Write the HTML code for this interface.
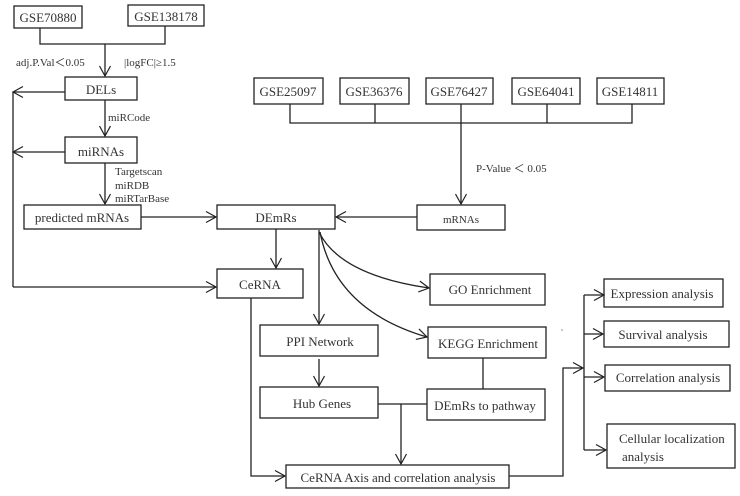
<!DOCTYPE html>
<html><head><meta charset="utf-8"><style>
html,body{margin:0;padding:0;background:#fff}
svg{display:block}
text{font-family:"Liberation Serif",serif;fill:#333}
</style></head><body>
<svg width="740" height="496" viewBox="0 0 740 496" xmlns="http://www.w3.org/2000/svg">
<defs>
<marker id="a" markerWidth="14" markerHeight="14" refX="11" refY="7" orient="auto" markerUnits="userSpaceOnUse">
<polyline points="1,1.5 11,7 1,12.5" fill="none" stroke="#222" stroke-width="1.2"/>
</marker>
</defs>
<g fill="none" stroke="#222" stroke-width="1.3">
<rect x="14" y="6" width="68" height="22"/>
<rect x="128" y="5" width="76" height="21"/>
<rect x="65" y="77" width="72" height="23"/>
<rect x="65" y="137" width="72" height="26"/>
<rect x="24" y="205" width="117" height="24"/>
<rect x="217" y="205" width="118" height="24"/>
<rect x="217" y="269" width="86" height="29"/>
<rect x="254" y="78" width="69" height="26"/>
<rect x="340" y="78" width="69" height="26"/>
<rect x="426" y="78" width="67" height="26"/>
<rect x="512" y="78" width="68" height="26"/>
<rect x="597" y="78" width="67" height="26"/>
<rect x="417" y="205" width="88" height="25"/>
<rect x="260" y="325" width="118" height="31"/>
<rect x="430" y="274" width="115" height="31"/>
<rect x="428" y="327" width="118" height="31"/>
<rect x="260" y="387" width="118" height="31"/>
<rect x="427" y="389" width="118" height="31"/>
<rect x="286" y="465" width="223" height="23"/>
<rect x="604" y="279" width="119" height="28"/>
<rect x="604" y="321" width="125" height="26"/>
<rect x="605" y="365" width="125" height="26"/>
<rect x="607" y="424" width="128" height="44"/>
<polyline points="40,28 40,44 165,44 165,26"/>
<line x1="105" y1="44" x2="105" y2="76" marker-end="url(#a)"/>
<line x1="65" y1="92" x2="13" y2="92" marker-end="url(#a)"/>
<line x1="13" y1="92" x2="13" y2="287"/>
<line x1="13" y1="287" x2="216" y2="287" marker-end="url(#a)"/>
<line x1="105" y1="100" x2="105" y2="136" marker-end="url(#a)"/>
<line x1="65" y1="152" x2="13" y2="152" marker-end="url(#a)"/>
<line x1="105" y1="163" x2="105" y2="204" marker-end="url(#a)"/>
<line x1="141" y1="217" x2="216" y2="217" marker-end="url(#a)"/>
<line x1="276" y1="229" x2="276" y2="268" marker-end="url(#a)"/>
<polyline points="290,104 290,123 632,123 632,104"/>
<line x1="375" y1="104" x2="375" y2="123"/>
<line x1="461" y1="104" x2="461" y2="204" marker-end="url(#a)"/>
<line x1="547" y1="104" x2="547" y2="123"/>
<line x1="417" y1="217" x2="336" y2="217" marker-end="url(#a)"/>
<line x1="319" y1="230" x2="319" y2="324" marker-end="url(#a)"/>
<path d="M319,232 Q340,275 429,288" marker-end="url(#a)"/>
<path d="M320,232 Q335,310 427,337" marker-end="url(#a)"/>
<line x1="319" y1="359" x2="319" y2="386" marker-end="url(#a)"/>
<line x1="483" y1="358" x2="483" y2="389"/>
<line x1="378" y1="404" x2="427" y2="404"/>
<line x1="401" y1="404" x2="401" y2="464" marker-end="url(#a)"/>
<polyline points="251,298 251,476 285,476" marker-end="url(#a)"/>
<polyline points="509,476 563,476 563,368 583,368" marker-end="url(#a)"/>
<line x1="584" y1="295" x2="584" y2="450"/>
<line x1="584" y1="295" x2="604" y2="295" marker-end="url(#a)"/>
<line x1="584" y1="334" x2="603" y2="334" marker-end="url(#a)"/>
<line x1="584" y1="377" x2="604" y2="377" marker-end="url(#a)"/>
<line x1="584" y1="450" x2="606" y2="450" marker-end="url(#a)"/>
</g>
<circle cx="562" cy="330" r="0.8" fill="#888"/>
<g font-size="13" text-anchor="middle">
<text x="48" y="22">GSE70880</text>
<text x="166" y="21">GSE138178</text>
<text x="101" y="94">DELs</text>
<text x="101" y="156">miRNAs</text>
<text x="82" y="222">predicted mRNAs</text>
<text x="276" y="222">DEmRs</text>
<text x="260" y="289">CeRNA</text>
<text x="288" y="96">GSE25097</text>
<text x="374" y="96">GSE36376</text>
<text x="459" y="96">GSE76427</text>
<text x="546" y="96">GSE64041</text>
<text x="630" y="96">GSE14811</text>
<text x="461" y="223" font-size="11">mRNAs</text>
<text x="320" y="346">PPI Network</text>
<text x="490" y="294">GO Enrichment</text>
<text x="488" y="348">KEGG Enrichment</text>
<text x="322" y="408">Hub Genes</text>
<text x="485" y="410">DEmRs to pathway</text>
<text x="398" y="482">CeRNA Axis and correlation analysis</text>
<text x="662" y="298">Expression analysis</text>
<text x="663" y="339">Survival analysis</text>
<text x="668" y="382">Correlation analysis</text>
</g>
<g font-size="13">
<text x="619" y="443">Cellular localization</text>
<text x="622" y="461">analysis</text>
</g>
<g font-size="11">
<text x="16" y="66">adj.P.Val＜0.05</text>
<text x="124" y="66">|logFC|≥1.5</text>
<text x="108" y="121">miRCode</text>
<text x="115" y="175">Targetscan</text>
<text x="115" y="189">miRDB</text>
<text x="115" y="202">miRTarBase</text>
<text x="476" y="172">P-Value ＜ 0.05</text>
</g>
</svg>
</body></html>
